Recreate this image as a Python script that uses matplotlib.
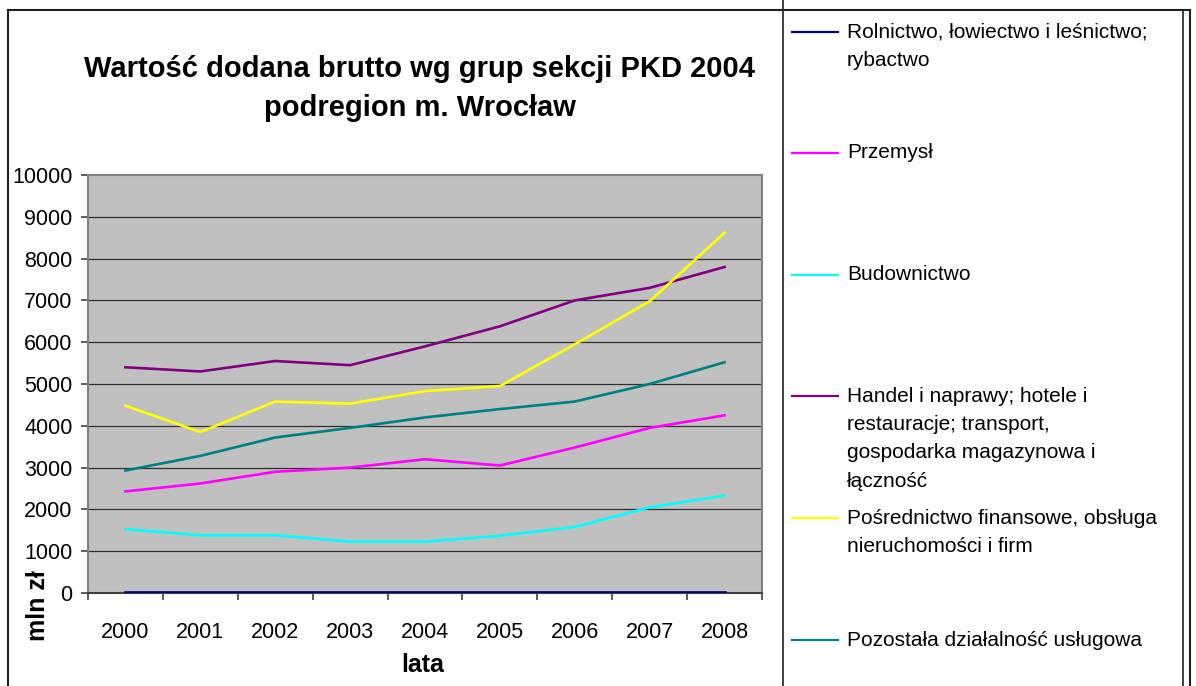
import matplotlib
matplotlib.use("Agg")
import matplotlib.pyplot as plt
from matplotlib.lines import Line2D

plt.rcParams['font.family'] = ['Liberation Sans', 'DejaVu Sans']

years = ['2000', '2001', '2002', '2003', '2004', '2005', '2006', '2007', '2008']

rolnictwo = [15, 15, 15, 15, 15, 15, 15, 15, 15]
przemysl = [2430, 2620, 2900, 3000, 3200, 3050, 3480, 3950, 4250]
budownictwo = [1530, 1380, 1380, 1230, 1230, 1370, 1580, 2050, 2330]
handel = [5400, 5300, 5550, 5450, 5900, 6380, 7000, 7300, 7800]
posrednictwo = [4480, 3850, 4580, 4530, 4830, 4950, 5950, 6980, 8620]
pozostala = [2930, 3280, 3720, 3950, 4200, 4400, 4580, 5000, 5520]

series = [rolnictwo, przemysl, budownictwo, handel, posrednictwo, pozostala]
colors = ['#000080', '#FF00FF', '#00FFFF', '#800080', '#FFFF00', '#008080']
labels = [
    ['Rolnictwo, łowiectwo i leśnictwo;', 'rybactwo'],
    ['Przemysł'],
    ['Budownictwo'],
    ['Handel i naprawy; hotele i', 'restauracje; transport,', 'gospodarka magazynowa i', 'łączność'],
    ['Pośrednictwo finansowe, obsługa', 'nieruchomości i firm'],
    ['Pozostała działalność usługowa'],
]
# legend row positions (px from top) for first line of each entry
legend_y = [32, 153, 275, 396, 518, 640]

W, H = 1196, 686
fig = plt.figure(figsize=(W / 100, H / 100), dpi=100)

def fx(px):
    return px / W

def fy(py):
    return 1 - py / H

ax = fig.add_axes([fx(88), fy(593), fx(762) - fx(88), fy(175) - fy(593)])
ax.set_facecolor('#C0C0C0')

x = list(range(len(years)))
for vals, c in zip(series, colors):
    ax.plot(x, vals, color=c, lw=1.9, solid_joinstyle='round', zorder=3)

ax.set_xlim(-0.5, len(years) - 0.5)
ax.set_ylim(0, 10000)
ax.set_yticks(range(0, 10001, 1000))
ax.set_xticks(x)
ax.set_xticklabels(years)
ax.set_xticks([i - 0.5 for i in range(len(years) + 1)], minor=True)
ax.tick_params(axis='x', which='major', length=0, pad=21, labelsize=15.5)
ax.tick_params(axis='x', which='minor', length=5, width=1.2, color='#404040', direction='out')
ax.tick_params(axis='y', length=5, width=1.2, color='#404040', pad=6, labelsize=15.5)

for v in range(1000, 10000, 1000):
    ax.axhline(v, color='#303030', lw=0.9, zorder=1)

for side in ['top', 'right', 'left']:
    ax.spines[side].set_color('#808080')
    ax.spines[side].set_linewidth(1.5)
ax.spines['bottom'].set_color('#404040')
ax.spines['bottom'].set_linewidth(1.5)

fig.text(fx(420), fy(69), 'Wartość dodana brutto wg grup sekcji PKD 2004',
         ha='center', va='center', fontsize=21, fontweight='bold')
fig.text(fx(420), fy(108), 'podregion m. Wrocław',
         ha='center', va='center', fontsize=21, fontweight='bold')
fig.text(fx(423), fy(665), 'lata', ha='center', va='center', fontsize=18, fontweight='bold')
fig.text(fx(38), fy(606), 'mln zł', ha='center', va='center', rotation=90,
         fontsize=18, fontweight='bold')

# outer chart frame
fig.add_artist(Line2D([fx(8), fx(8)], [fy(10), 0], color='#202020', lw=1.5))
fig.add_artist(Line2D([fx(8), fx(1190)], [fy(10), fy(10)], color='#202020', lw=1.5))
fig.add_artist(Line2D([fx(1190), fx(1190)], [fy(10), 0], color='#202020', lw=1.5))

# legend box
fig.add_artist(Line2D([fx(783), fx(783)], [0, 1], color='#202020', lw=1.2))
fig.add_artist(Line2D([fx(1183), fx(1183)], [0, fy(10)], color='#202020', lw=1.2))

for lab, c, y0 in zip(labels, colors, legend_y):
    fig.add_artist(Line2D([fx(792), fx(838)], [fy(y0), fy(y0)], color=c, lw=1.6))
    for i, line in enumerate(lab):
        fig.text(fx(847), fy(y0 + i * 28.5), line, ha='left', va='center', fontsize=15)

fig.savefig('out.png', dpi=100)
